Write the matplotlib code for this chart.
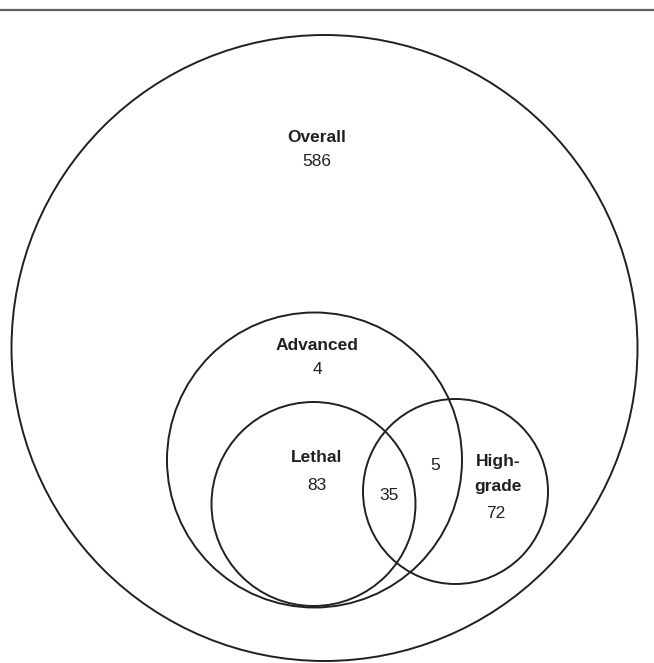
import matplotlib
matplotlib.use('Agg')
import matplotlib.pyplot as plt
from matplotlib.patches import Circle

# Venn sets and region counts
set_names = ["Overall", "Advanced", "Lethal", "High-\ngrade"]
set_counts = [586, 4, 83, 72]
overlap_counts = [35, 5]   # Lethal & High-grade, Advanced & High-grade only

# layout (pixel coords, y down)
circle_xy = [(324.5, 348), (314.5, 460), (313.5, 504), (455.5, 491.5)]
circle_r = [313, 147.5, 102, 92.5]
name_xy = [(317, 137), (317, 346), (317, 458), (498, 474)]
count_xy = [(317, 162), (317, 369), (317, 486), (496, 514)]
overlap_xy = [(389, 495), (435, 466)]

plt.rcParams['font.family'] = ['Liberation Sans', 'DejaVu Sans']
line_col = '#231f20'

fig = plt.figure(figsize=(6.54, 6.63), dpi=100)
ax = fig.add_axes([0, 0, 1, 1])
ax.set_xlim(0, 654)
ax.set_ylim(663, 0)
ax.axis('off')

ax.axhline(10, color='#5e5e5e', lw=1.6)

for (cx, cy), r in zip(circle_xy, circle_r):
    ax.add_patch(Circle((cx, cy), r, fill=False, ec=line_col, lw=1.4))

for i, name in enumerate(set_names):
    # two-line labels need a bit more room between lines
    ax.text(name_xy[i][0], name_xy[i][1], name, ha='center', va='center',
            fontsize=12.5, fontweight='bold', color=line_col, linespacing=1.8)
    ax.text(count_xy[i][0], count_xy[i][1], str(set_counts[i]), ha='center', va='center',
            fontsize=12.5, color=line_col)

for (x, y), v in zip(overlap_xy, overlap_counts):
    ax.text(x, y, str(v), ha='center', va='center', fontsize=12.5, color=line_col)

fig.savefig('out.png', dpi=100)
